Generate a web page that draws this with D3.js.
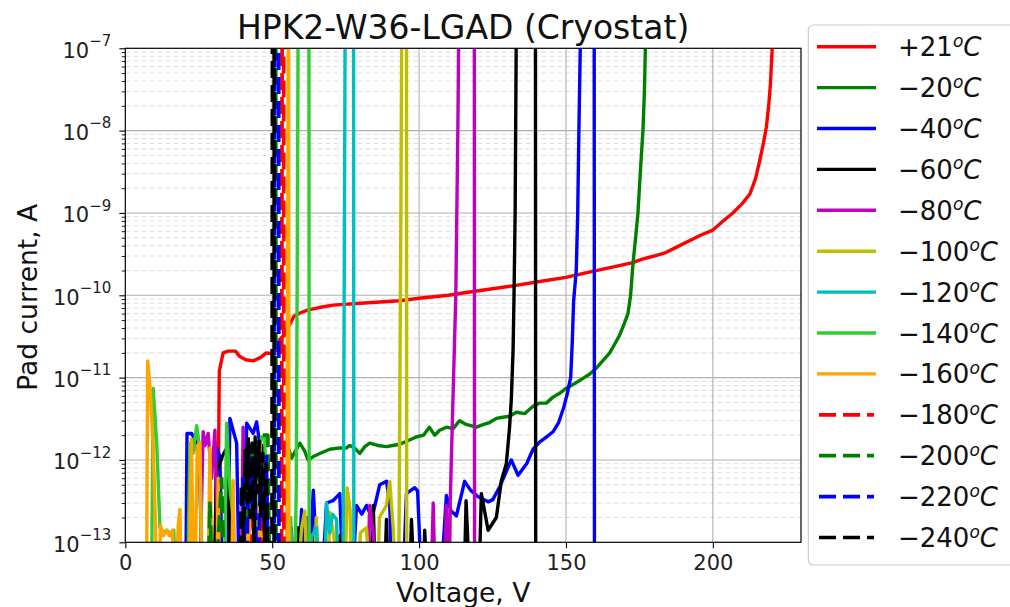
<!DOCTYPE html>
<head>
    <meta charset="utf-8" />
    <title>HPK2-W36-LGAD (Cryostat)</title>
    <script src="https://d3js.org/d3.v7.min.js"></script>
    <style>
        body { margin: 0; background: #fff; }
        svg { font-family: "DejaVu Sans", sans-serif; }
    </style>
</head>
<body>
<svg width="1010" height="607"></svg>
<script>
    // ---- data: [voltage V, pad current A] ----
    // 1e-14 = below the axis, 1e-6 = off the top (compliance)
    const d_p21 = [[31.2,1e-14],[31.6,3e-13],[32.0,1.2e-11],[33.3,2.0e-11],[35,2.1e-11],[37.5,2.1e-11],[39,1.8e-11],[41,1.65e-11],[43.5,1.6e-11],[46,1.75e-11],[48,2.0e-11],[50,1.95e-11],[51.5,2.2e-11],[52.6,2.9e-11],[54,3.3e-11],[56,4.5e-11],[57.5,5.6e-11],[59.5,6.1e-11],[62,6.6e-11],[66,7.1e-11],[70.7,7.6e-11],[80,8.0e-11],[93.4,8.6e-11],[100,9.2e-11],[110,1.0e-10],[116,1.08e-10],[125,1.2e-10],[133,1.32e-10],[140,1.45e-10],[150,1.65e-10],[159,1.95e-10],[167,2.25e-10],[172.7,2.5e-10],[176,2.75e-10],[180,3.0e-10],[184,3.3e-10],[188,3.9e-10],[192,4.6e-10],[196,5.4e-10],[200,6.2e-10],[203,7.7e-10],[206.8,1.0e-9],[210,1.3e-9],[212.6,1.7e-9],[214.5,2.6e-9],[216,4.4e-9],[217.2,7e-9],[218.2,1.1e-8],[219,2e-8],[219.6,3.7e-8],[220.2,1e-7],[220.6,2e-7]];
    const d_m20 = [[55,1.6e-12],[56.6,1.05e-12],[58,1.3e-12],[59.4,1.6e-12],[61,1.3e-12],[62.2,1.0e-12],[64,1.1e-12],[66.2,1.2e-12],[69.6,1.35e-12],[73,1.4e-12],[75.3,1.4e-12],[76.4,1.5e-12],[78,1.4e-12],[79.8,1.2e-12],[81.5,1.45e-12],[83.2,1.6e-12],[86,1.5e-12],[88.9,1.45e-12],[91,1.5e-12],[93.4,1.55e-12],[96,1.7e-12],[99,1.9e-12],[101.5,2.0e-12],[103.5,2.5e-12],[105.3,2.0e-12],[107,2.3e-12],[109.3,2.5e-12],[111.6,2.4e-12],[113.8,3.0e-12],[116,2.7e-12],[119.5,2.5e-12],[122,2.7e-12],[124,2.85e-12],[126.3,3.2e-12],[128.5,3.3e-12],[130.8,3.4e-12],[133.1,3.8e-12],[135.9,3.65e-12],[138.8,4.5e-12],[141,4.9e-12],[143.3,4.9e-12],[145.6,5.8e-12],[148,6.5e-12],[150,7.4e-12],[153,8.5e-12],[155.8,9.8e-12],[158,1.1e-11],[160.3,1.3e-11],[162.5,1.6e-11],[164.9,2.0e-11],[166.7,2.6e-11],[168.3,3.3e-11],[169.8,4.5e-11],[171.1,6e-11],[172.0,1.0e-10],[172.8,2.4e-10],[173.7,5e-10],[174.5,1e-9],[175.4,3.5e-9],[176.2,1e-8],[176.7,3e-8],[177.2,2e-7]];
    const d_m40 = [[20.5,1e-14],[21.0,2.1e-12],[22.6,2.1e-12],[24.3,1.6e-12],[25.4,5.3e-13],[26.5,1e-14],[30.3,1e-14],[31.1,1.4e-12],[32.2,1.1e-12],[33.3,1e-14],[34.6,1e-14],[35.6,3.2e-12],[37.9,1.6e-12],[39,1e-14],[40.3,1e-14],[41.3,2.8e-12],[43.5,2.1e-12],[44.7,2.9e-12],[46.9,8e-13],[48.1,1e-14],[54.9,1e-14],[56.5,1.5e-13],[58.0,1e-14],[60,2.5e-13],[61.7,1e-14],[64,4.3e-13],[66.2,1e-14],[68.5,3e-13],[70.7,3.2e-13],[73,3.9e-13],[74.7,1e-14],[76.5,1e-14],[78.7,2.8e-13],[80.5,2.2e-13],[82.1,2.8e-13],[84,2e-13],[86.6,5e-13],[88.9,5.5e-13],[90,3e-13],[91.2,1e-14],[94,1e-14],[95.7,3.9e-13],[98.5,4.6e-13],[99.5,4.2e-13],[101.4,1e-14],[106.5,1e-14],[109.3,3.7e-13],[110.9,2.4e-13],[112.7,2.1e-13],[115.5,5.5e-13],[117.5,4.3e-13],[120,3.6e-13],[123.5,3.1e-13],[125.1,3.3e-13],[127.4,4.7e-13],[129.5,7e-13],[131.4,1.0e-12],[133.7,6.5e-13],[136.6,9e-13],[138.8,1.35e-12],[141,1.65e-12],[143.3,1.9e-12],[145.6,2.2e-12],[147.5,2.85e-12],[149.2,4.3e-12],[150.4,6.3e-12],[151.6,1.0e-11],[152.1,2.5e-11],[152.6,8.5e-11],[153.5,2.0e-10],[154.0,1e-9],[154.4,1e-8],[155,2e-7],[159.6,1e-6],[159.7,1e-14]];
    const d_m60 = [[30,1e-14],[31,7e-13],[33,1.1e-12],[35,1.5e-12],[36,1e-14],[39.8,1e-14],[40.4,8e-13],[41.0,1.5e-13],[41.7,1.6e-12],[42.3,2e-13],[43.0,1.1e-12],[43.6,1.4e-13],[44.2,1.9e-12],[44.8,3e-13],[45.4,1.3e-12],[46.0,1.2e-13],[46.6,1.5e-12],[47.2,2e-13],[47.8,8e-13],[48.4,1e-14],[58,1e-14],[58.8,1.5e-13],[59.5,1e-14],[63,1e-14],[64,1.3e-13],[65,1e-14],[72,1e-14],[73,1.2e-13],[74,1e-14],[83,1e-14],[84.4,2.8e-13],[85.5,1e-14],[87.8,1e-14],[88.9,1.9e-13],[90,1e-14],[96.5,1e-14],[97.4,1.9e-13],[99,1e-14],[101,1e-14],[101.9,1.4e-13],[103.6,1e-14],[115,1e-14],[116,3.2e-13],[117.8,1e-14],[120,1e-14],[121.2,3.9e-13],[123.5,1.4e-13],[126.3,2e-13],[128,5.6e-13],[129.7,9e-13],[130.8,2.5e-12],[131.4,5.5e-12],[132,2.2e-11],[132.3,9e-11],[132.7,1e-9],[133.1,2e-7],[139.6,1e-6],[139.7,1e-14]];
    const d_m80 = [[25,1e-14],[26.5,2.2e-12],[27.2,1.5e-12],[28.2,2.1e-12],[29.4,6e-13],[30.5,2.3e-12],[31.5,1e-13],[32.2,1e-14],[39.3,1e-14],[40.1,2.5e-12],[41,1e-14],[61,1e-14],[62,2e-13],[63,1e-14],[82,1e-14],[83.2,2.8e-13],[84.5,1.2e-13],[86,1e-14],[103.8,1e-14],[104.8,3e-13],[105.8,1e-14],[108.3,1e-14],[109.3,2.8e-13],[110.2,1e-14],[110.6,3e-13],[111.5,5e-12],[112.5,1e-10],[113.2,1e-8],[113.7,1e-6],[118.8,1e-6],[118.9,1e-14]];
    const d_m100 = [[58,1e-14],[60,1.5e-13],[61.1,2.4e-13],[62.5,1e-14],[64,1e-14],[65,2e-13],[66.5,1e-14],[68.5,1e-14],[69.6,2.3e-13],[71,1.2e-13],[73,1e-14],[74.5,1e-14],[75.5,4.6e-13],[76.5,2.5e-13],[77.5,1e-14],[79,1e-14],[80,1.3e-13],[82.1,1.5e-13],[84,1e-14],[85.5,1e-14],[86.5,2e-13],[88.9,2.8e-13],[90,5.5e-13],[91.2,1.5e-13],[92.5,1e-14],[93.0,1e-14],[93.4,3e-12],[93.8,1e-9],[94.2,1e-6],[95.7,1e-6],[95.8,1e-14]];
    const d_m120 = [[62,1e-14],[63.5,1.2e-13],[65.1,1.5e-13],[66.5,1e-14],[67.5,1e-14],[68.5,3e-13],[69.6,1.3e-13],[70.5,2.2e-13],[71.9,1.9e-13],[73,1e-14],[74.0,1e-14],[74.3,1e-12],[74.6,1e-9],[74.9,1e-6],[77.7,1e-6],[77.8,1e-14]];
    const d_m140 = [[8.8,1e-14],[9.5,7.4e-12],[10.7,1.6e-12],[11.8,1.5e-13],[12.9,1.3e-13],[14.2,1.4e-13],[15.5,1.2e-13],[16.5,1.4e-13],[17.5,1e-14],[21,1e-14],[22,1.6e-12],[23,1.2e-12],[24.3,2.6e-12],[25.4,1.3e-12],[26.5,1e-14],[33.5,1e-14],[34.5,2.8e-12],[35.6,4.6e-13],[36.7,2e-13],[38,1e-14],[44.5,1e-14],[45.5,1.2e-12],[46.4,1.9e-12],[47.5,1.9e-12],[48.5,1e-14],[55.5,1e-14],[56.3,2e-13],[57.5,1e-14],[58.2,5e-13],[58.6,1e-9],[58.9,1e-6],[62.5,1e-6],[62.6,1e-14]];
    const d_m160 = [[7.2,1e-14],[7.6,1.6e-11],[8.5,7e-12],[9.5,1.5e-12],[10.3,1.5e-13],[11,1e-14],[12,1.6e-13],[13,1.2e-13],[14,1.4e-13],[15,1.2e-13],[16,1.4e-13],[17,1e-14],[18,1.6e-13],[18.6,2.5e-13],[19.2,1e-14],[21.5,1e-14],[22.5,1.8e-12],[23.5,1e-14],[24.5,1.5e-12],[25.4,1.6e-12],[26.2,1e-14],[28,1e-14],[28.8,1.4e-12],[29.8,1e-14],[31,1e-14],[31.6,6e-13],[32.3,1e-14],[36,1e-14],[36.7,5.6e-13],[37.5,1e-14],[41,1e-14],[42,4e-13],[43,1e-14],[45,1e-14],[45.8,1.6e-12],[46.6,1e-14],[54.6,1e-14],[55.0,2e-13],[55.3,1e-9],[55.5,1e-6],[55.6,1e-6],[55.7,1e-14]];
    const d_m180 = [[38,1e-14],[40,2e-13],[41,1e-14],[44,3e-13],[45,1e-14],[47,4e-13],[48,1e-14],[53.2,1e-14],[53.4,1e-6],[53.9,1e-6],[54.0,1e-14]];
    const d_m200 = [[28,1e-14],[28.8,3e-13],[30,1e-14],[32.8,6e-13],[34,1e-14],[40,1e-14],[41,8e-13],[42,2e-13],[43,1.5e-12],[44,3e-13],[45.5,1.8e-12],[46.5,2e-12],[48.5,2e-12],[49.3,1e-14],[50.3,1e-14],[50.5,1e-6],[51.2,1e-6],[51.3,1e-14]];
    const d_m220 = [[38,1e-14],[40,6e-13],[41,1e-14],[42,1.2e-12],[43,3e-13],[44,1e-12],[45,1e-14],[46,9e-13],[47,2e-13],[48,1.1e-12],[49,1e-14],[50.7,1e-14],[50.9,1e-6],[52.2,1e-6],[52.3,1e-14]];
    const d_m240 = [[39,1e-14],[39.5,5e-13],[40.2,1e-13],[40.8,1.3e-12],[41.5,3e-13],[41.8,1.9e-12],[42.5,2e-13],[43.2,1.6e-12],[43.8,1e-13],[44.5,1.4e-12],[45,4e-13],[45.6,1.7e-12],[46.2,2e-13],[46.8,1.2e-12],[47.5,1e-13],[48,9e-13],[48.7,1e-14],[49.9,1e-14],[50.1,1e-6],[50.7,1e-6],[50.8,1e-14]];

    const seriesData = [d_p21, d_m20, d_m40, d_m60, d_m80, d_m100, d_m120, d_m140, d_m160, d_m180, d_m200, d_m220, d_m240];
    const tempLabels = ["+21", "\u221220", "\u221240", "\u221260", "\u221280", "\u2212100", "\u2212120", "\u2212140", "\u2212160", "\u2212180", "\u2212200", "\u2212220", "\u2212240"];
    const lineColors = ["#ff0000", "#008000", "#0000ff", "#000000", "#bf00bf", "#bfbf00", "#00bfbf", "#32cd32", "#ffa500", "#ff0000", "#008000", "#0000ff", "#000000"];
    const isDashed = [false, false, false, false, false, false, false, false, false, true, true, true, true];

    const xTicks = [0, 50, 100, 150, 200];
    const yTicks = [1e-13, 1e-12, 1e-11, 1e-10, 1e-9, 1e-8, 1e-7];
    const yExponents = ["\u221213", "\u221212", "\u221211", "\u221210", "\u22129", "\u22128", "\u22127"];

    let svg = d3.select("svg");
    let pLeft = 125.3, pRight = 801, pTop = 48.3, pBottom = 542.3;

    let x = d3.scaleLinear().domain([0, 230]).range([pLeft, pRight]);
    let y = d3.scaleLog().domain([1e-13, 1e-7]).range([pBottom, pTop]);

    svg.append("rect").attr("width", 1010).attr("height", 607).attr("fill", "#fff");

    svg.append("clipPath").attr("id", "plotclip")
        .append("rect").attr("x", pLeft).attr("y", pTop).attr("width", pRight - pLeft).attr("height", pBottom - pTop);

    // minor y values 2..9 per decade
    let minorVals = [];
    for (let e = -13; e < -7; e++) {
        for (let m = 2; m < 10; m++) minorVals.push(m * Math.pow(10, e));
    }

    // grid
    let grid = svg.append("g");
    grid.selectAll(".ymin").data(minorVals).enter().append("line")
        .attr("x1", pLeft).attr("x2", pRight)
        .attr("y1", d => y(d)).attr("y2", d => y(d))
        .attr("stroke", "#d9d9d9").attr("stroke-width", 0.9).attr("stroke-dasharray", "5,3");
    grid.selectAll(".ymaj").data(yTicks.slice(1, -1)).enter().append("line")
        .attr("x1", pLeft).attr("x2", pRight)
        .attr("y1", d => y(d)).attr("y2", d => y(d))
        .attr("stroke", "#b0b0b0").attr("stroke-width", 1.1);
    grid.selectAll(".xmaj").data(xTicks.slice(1)).enter().append("line")
        .attr("x1", d => x(d)).attr("x2", d => x(d))
        .attr("y1", pTop).attr("y2", pBottom)
        .attr("stroke", "#b0b0b0").attr("stroke-width", 1.1);

    // curves
    let line = d3.line().x(d => x(d[0])).y(d => y(d[1]));
    let curves = svg.append("g").attr("clip-path", "url(#plotclip)");
    seriesData.forEach(function (data, i) {
        curves.append("path")
            .attr("d", line(data))
            .attr("fill", "none")
            .attr("stroke", lineColors[i])
            .attr("stroke-width", isDashed[i] ? 3.7 : 3.4)
            .attr("stroke-linejoin", "round")
            .attr("stroke-dasharray", isDashed[i] ? "17,7" : null);
    });

    // frame
    svg.append("rect").attr("x", pLeft).attr("y", pTop).attr("width", pRight - pLeft).attr("height", pBottom - pTop)
        .attr("fill", "none").attr("stroke", "#000").attr("stroke-width", 1.2);

    // axes
    let xAxis = svg.append("g").attr("transform", "translate(0," + pBottom + ")")
        .call(d3.axisBottom(x).tickValues(xTicks).tickSize(6).tickPadding(7));
    xAxis.select(".domain").remove();
    xAxis.selectAll("text").attr("font-size", 21).attr("fill", "#222").attr("font-family", "DejaVu Sans");
    xAxis.selectAll("line").attr("stroke-width", 1.1);

    let yMinorAxis = svg.append("g").attr("transform", "translate(" + pLeft + ",0)")
        .call(d3.axisLeft(y).tickValues(minorVals).tickSize(3.5).tickFormat(""));
    yMinorAxis.select(".domain").remove();
    yMinorAxis.selectAll("line").attr("stroke-width", 0.9);

    let yAxis = svg.append("g").attr("transform", "translate(" + pLeft + ",0)")
        .call(d3.axisLeft(y).tickValues(yTicks).tickSize(6).tickPadding(8));
    yAxis.select(".domain").remove();
    yAxis.selectAll("line").attr("stroke-width", 1.1);
    yAxis.selectAll("text")
        .attr("font-size", 21).attr("fill", "#222").attr("font-family", "DejaVu Sans").attr("dy", "0.42em")
        .each(function (d) {
            let t = d3.select(this);
            t.text(null);
            t.append("tspan").text("10");
            t.append("tspan").attr("dy", -11.5).attr("font-size", 15).text(yExponents[yTicks.indexOf(d)]);
        });

    // labels
    svg.append("text").attr("x", (pLeft + pRight) / 2).attr("y", 39).attr("text-anchor", "middle")
        .attr("font-size", 33).attr("fill", "#111").text("HPK2-W36-LGAD (Cryostat)");
    svg.append("text").attr("x", (pLeft + pRight) / 2).attr("y", 602).attr("text-anchor", "middle")
        .attr("font-size", 26.5).attr("fill", "#111").text("Voltage, V");
    svg.append("text").attr("transform", "translate(37," + ((pTop + pBottom) / 2 + 2) + ") rotate(-90)")
        .attr("text-anchor", "middle").attr("font-size", 26.5).attr("fill", "#111").text("Pad current, A");

    // legend
    let legend = svg.append("g");
    legend.append("rect").attr("x", 808.3).attr("y", 25).attr("width", 260).attr("height", 540).attr("rx", 5)
        .attr("fill", "#fff").attr("stroke", "#cccccc").attr("stroke-width", 1.2);
    tempLabels.forEach(function (lab, i) {
        let ry = 46.7 + i * 40.9;
        legend.append("line")
            .attr("x1", isDashed[i] ? 819 : 817).attr("x2", isDashed[i] ? 874 : 876)
            .attr("y1", ry).attr("y2", ry)
            .attr("stroke", lineColors[i]).attr("stroke-width", isDashed[i] ? 3.7 : 3.4)
            .attr("stroke-dasharray", isDashed[i] ? "17,7" : null);
        let t = legend.append("text").attr("x", 898).attr("y", ry + 9.5).attr("font-size", 26).attr("fill", "#111");
        t.append("tspan").text(lab);
        t.append("tspan").attr("dy", -9.5).attr("font-size", 17).attr("font-style", "italic").text("o");
        t.append("tspan").attr("dy", 9.5).attr("font-style", "italic").text("C");
    });
</script>
</body>
